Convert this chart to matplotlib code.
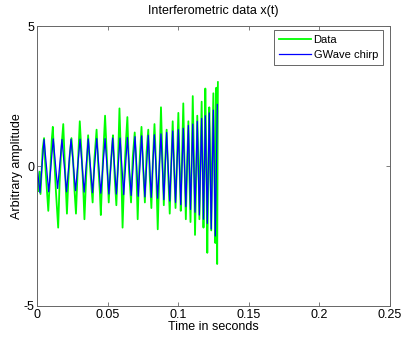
import matplotlib
matplotlib.use("Agg")
import matplotlib.pyplot as plt

# chirp template (time in s, amplitude)
chirp_t = [0.0000, 0.0021, 0.0050, 0.0083, 0.0115, 0.0146, 0.0177, 0.0209, 0.0241, 0.0273,
           0.0305, 0.0334, 0.0363, 0.0393, 0.0423, 0.0452, 0.0482, 0.0509, 0.0536, 0.0562,
           0.0588, 0.0614, 0.0640, 0.0667, 0.0694, 0.0717, 0.0741, 0.0764, 0.0788, 0.0809,
           0.0831, 0.0854, 0.0878, 0.0898, 0.0918, 0.0940, 0.0961, 0.0981, 0.1001, 0.1018,
           0.1036, 0.1054, 0.1072, 0.1087, 0.1103, 0.1119, 0.1135, 0.1150, 0.1166, 0.1179,
           0.1192, 0.1206, 0.1220, 0.1234, 0.1249, 0.1263, 0.1277]
chirp_x = [0.00, -0.95, 0.95, -0.92, 0.97, -0.80, 0.95, -0.92, 0.96, -0.88,
           0.96, -0.93, 0.97, -0.95, 0.98, -0.97, 0.98, -1.00, 1.00, -1.00,
           1.00, -1.02, 1.02, -1.05, 1.05, -1.08, 1.08, -1.10, 1.10, -1.12,
           1.12, -1.15, 1.15, -1.20, 1.20, -1.25, 1.25, -1.30, 1.30, -1.38,
           1.35, -1.45, 1.45, -1.55, 1.50, -1.65, 1.60, -1.75, 1.70, -1.90,
           1.80, -2.05, 1.90, -2.25, 2.00, -2.50, 2.20]

# noisy interferometer data
data_t = [0.0000, 0.0010, 0.0018, 0.0025, 0.0040, 0.0050, 0.0058, 0.0068, 0.0080, 0.0092,
          0.0104, 0.0112, 0.0122, 0.0134, 0.0150, 0.0160, 0.0172, 0.0186, 0.0196, 0.0212,
          0.0222, 0.0232, 0.0244, 0.0256, 0.0266, 0.0276, 0.0290, 0.0303, 0.0316, 0.0326,
          0.0336, 0.0348, 0.0362, 0.0372, 0.0382, 0.0394, 0.0406, 0.0422, 0.0434, 0.0446,
          0.0452, 0.0466, 0.0482, 0.0496, 0.0508, 0.0518, 0.0530, 0.0538, 0.0550, 0.0562,
          0.0574, 0.0584, 0.0594, 0.0606, 0.0618, 0.0630, 0.0640, 0.0652, 0.0666, 0.0678,
          0.0692, 0.0702, 0.0713, 0.0724, 0.0740, 0.0752, 0.0764, 0.0776, 0.0788, 0.0798,
          0.0810, 0.0820, 0.0832, 0.0842, 0.0855, 0.0866, 0.0878, 0.0888, 0.0898, 0.0908,
          0.0918, 0.0930, 0.0940, 0.0950, 0.0961, 0.0972, 0.0981, 0.0992, 0.1001, 0.1012,
          0.1018, 0.1028, 0.1036, 0.1046, 0.1054, 0.1064, 0.1072, 0.1080, 0.1087, 0.1096,
          0.1103, 0.1112, 0.1119, 0.1128, 0.1135, 0.1143, 0.1150, 0.1158, 0.1166, 0.1173,
          0.1179, 0.1186, 0.1192, 0.1199, 0.1206, 0.1213, 0.1220, 0.1227, 0.1234, 0.1241,
          0.1249, 0.1256, 0.1263, 0.1270, 0.1276, 0.1281]
data_x = [-0.4, -0.9, -0.2, -1.0, 0.6, 1.0, 0.1, -0.7, -1.6, -0.4,
          0.9, 1.4, 0.3, -0.9, -2.2, -0.6, 0.6, 1.5, 0.2, -1.7,
          -0.5, 0.4, 1.0, 0.2, -0.9, -1.7, 0.1, 1.6, 0.4, -0.6,
          -1.9, -0.4, 1.1, 0.3, -0.5, -1.3, 0.2, 1.3, 0.0, -1.0,
          -1.75, 0.1, 1.8, 0.2, -1.3, -0.3, 0.6, 1.1, -0.4, -1.4,
          0.2, 2.06, 0.4, -2.2, -0.3, 0.9, 1.75, -0.2, -1.3, 0.3,
          1.2, 0.2, -1.9, -0.1, 1.4, -0.1, -1.3, 0.5, 1.3, -0.3,
          -1.5, 0.1, 1.5, 0.2, -2.26, -0.2, 2.1, 0.3, -1.4, 0.2,
          1.3, -0.4, -1.7, 0.0, 1.6, -0.2, -1.5, 0.3, 1.9, -0.4,
          -1.6, 0.5, 2.24, -0.2, -1.9, 0.2, 1.6, -0.5, -2.0, 0.3,
          2.5, 0.1, -2.46, -0.3, 1.8, 0.2, -1.9, 0.4, 2.3, -0.2,
          -2.2, 0.0, 2.77, 0.3, -3.1, -0.4, 2.1, 0.1, -2.3, 0.5,
          2.6, -0.2, -2.75, 2.8, -3.5, 3.0]

plt.rcParams['font.family'] = ['Liberation Sans', 'DejaVu Sans']
plt.rcParams['font.size'] = 9

fig = plt.figure(figsize=(4.03, 3.38), dpi=100)
ax = fig.add_axes([0.0918, 0.0947, 0.876, 0.828])

ax.plot(data_t, data_x, color=(0, 1, 0), linewidth=1.3, label="Data")
ax.plot(chirp_t, chirp_x, color=(0, 0, 1), linewidth=0.9, label="GWave chirp")

ax.set_xlim(0, 0.25)
ax.set_ylim(-5, 5)
ax.set_xticks([0, 0.05, 0.1, 0.15, 0.2, 0.25])
ax.set_xticklabels(["0", "0.05", "0.1", "0.15", "0.2", "0.25"])
ax.set_yticks([-5, 0, 5])
ax.set_yticklabels(["-5", "0", "5"])
ax.tick_params(direction="in", top=True, right=True, length=3, width=0.6,
               color="0.4", labelsize=9, pad=2)
for s in ax.spines.values():
    s.set_color("0.4")
    s.set_linewidth(0.7)

ax.set_title("Interferometric data x(t)", fontsize=9, pad=9)
ax.set_xlabel("Time in seconds", fontsize=9, labelpad=0)
ax.set_ylabel("Arbitrary amplitude", fontsize=9, labelpad=0)

leg = ax.legend(loc="upper right", bbox_to_anchor=(0.980, 0.986), borderaxespad=0,
                fancybox=False, framealpha=1, edgecolor="0.3",
                borderpad=0.45, handlelength=2.9, handletextpad=0.2, labelspacing=0.45,
                fontsize=8)
leg.get_frame().set_linewidth(0.6)

fig.savefig("out.png", dpi=100)
